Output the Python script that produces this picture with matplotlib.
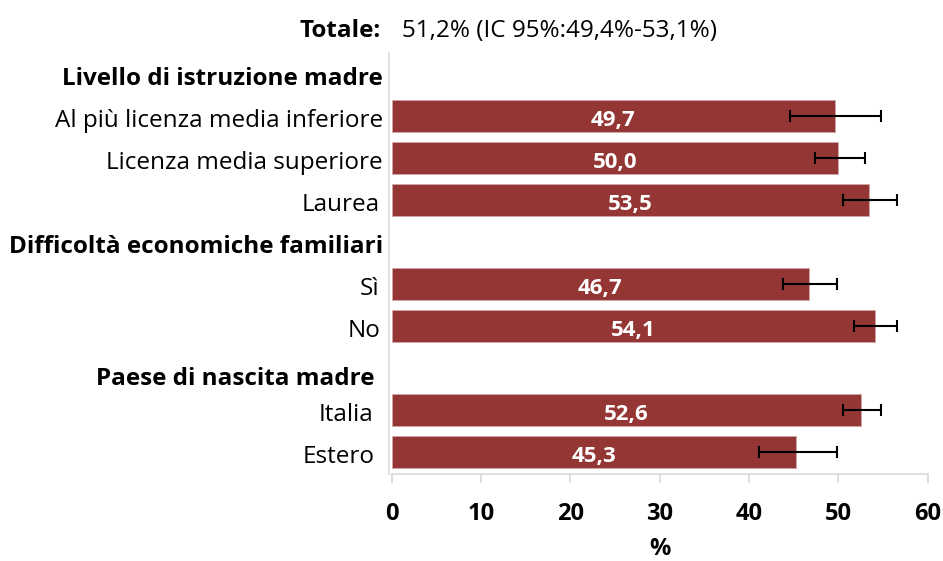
import matplotlib
matplotlib.use("Agg")
import matplotlib.pyplot as plt
import numpy as np

plt.rcParams['font.family'] = ['Open Sans', 'DejaVu Sans']

headers = ["Livello di istruzione madre", "Difficoltà economiche familiari", "Paese di nascita madre"]
header_rows = [0, 4, 7.15]

categories = ["Al più licenza media inferiore", "Licenza media superiore", "Laurea",
              "Sì", "No", "Italia", "Estero"]
rows = [1, 2, 3, 5, 6, 8, 9]
values = [49.7, 50.0, 53.5, 46.7, 54.1, 52.6, 45.3]
ci_low = [44.6, 47.4, 50.5, 43.8, 51.8, 50.5, 41.1]
ci_high = [54.8, 53.0, 56.6, 49.9, 56.6, 54.8, 49.9]
value_labels = ["49,7", "50,0", "53,5", "46,7", "54,1", "52,6", "45,3"]
xticks = [0, 10, 20, 30, 40, 50, 60]
total_label = "Totale:"
total_text = "51,2% (IC 95%:49,4%-53,1%)"

# layout (pixels)
W, H = 943, 561
cat_right_px = [383, 383, 380, 379, 380, 373, 375]
header_right_px = [383, 383, 375]
baseline_shift = 0.26  # rows below row centre

bar_color = "#943634"
axis_gray = "#d9d9d9"
FS = 17.5

fig = plt.figure(figsize=(W / 100, H / 100), dpi=100)
ax = fig.add_axes([391.5 / W, 87 / H, 536 / W, 421 / H])

vals = np.array(values)
xerr = np.array([vals - np.array(ci_low), np.array(ci_high) - vals])
ax.barh(rows, values, height=0.76, color=bar_color, edgecolor="#cfa5a5", linewidth=0.6, zorder=2)
ax.errorbar(values, rows, xerr=xerr, fmt='none', ecolor='black', elinewidth=1.5,
            capsize=4.5, capthick=1.5, zorder=3)

for r, v, lab in zip(rows, values, value_labels):
    ax.text(v / 2, r + 0.25, lab, ha='center', va='baseline', color='white',
            fontsize=16, fontweight='bold', zorder=4)

ax.set_xlim(0, 60)
ax.set_ylim(9.525, -0.5)
ax.set_xticks(xticks)
ax.set_xticklabels([str(t) for t in xticks], fontsize=17, fontweight='bold')
ax.tick_params(axis='x', length=6.5, color=axis_gray, width=1.2, pad=26.3, direction='out')
for lbl in ax.get_xticklabels():
    lbl.set_verticalalignment('baseline')
ax.set_yticks([])
for s in ['top', 'right']:
    ax.spines[s].set_visible(False)
ax.spines['left'].set_color(axis_gray)
ax.spines['bottom'].set_color(axis_gray)
ax.spines['left'].set_linewidth(1.2)
ax.spines['bottom'].set_linewidth(1.2)
ax.spines['left'].set_position(('outward', 2))

ytr = ax.get_yaxis_transform()
x0_px = 391.5
for lab, r, xr in zip(categories, rows, cat_right_px):
    ax.text(-(x0_px - xr) / 536, r + baseline_shift, lab, transform=ytr, ha='right',
            va='baseline', fontsize=FS)
for h, r, xr in zip(headers, header_rows, header_right_px):
    ax.text(-(x0_px - xr) / 536, r + baseline_shift, h, transform=ytr, ha='right',
            va='baseline', fontsize=FS, fontweight='bold')

fig.text(381 / W, 1 - 37 / H, total_label, ha='right', va='baseline', fontsize=FS, fontweight='bold')
fig.text(402 / W, 1 - 37 / H, total_text, ha='left', va='baseline', fontsize=FS)

fig.text(659.5 / W, 1 - 555 / H, "%", ha='center', va='baseline', fontsize=17, fontweight='bold')

fig.savefig("out.png", dpi=100)
